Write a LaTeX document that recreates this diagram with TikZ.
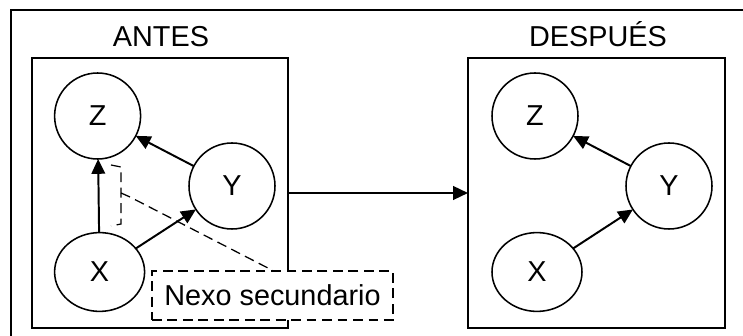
\documentclass[tikz,border=0pt]{standalone}
\usepackage{fontspec}
\setmainfont{Liberation Sans}
\usetikzlibrary{arrows.meta,shapes.geometric}
\begin{document}
\begin{tikzpicture}[
    font=\fontsize{20.5}{24}\selectfont,
    >={Triangle[length=0.37cm,width=0.34cm]},
    var/.style={draw,circle,line width=1.1pt,minimum size=2.15cm,inner sep=0pt,outer sep=0pt},
    varx/.style={draw,ellipse,line width=1.1pt,minimum width=2.25cm,minimum height=1.97cm,inner sep=0pt,outer sep=0pt},
    box/.style={draw,line width=1.3pt,minimum height=6.75cm,inner sep=0pt,outer sep=0pt},
    link/.style={->,line width=1.4pt},
    callout/.style={line width=0.9pt,dash pattern=on 7pt off 4pt}]
        \clip (0,0) rectangle (18.575,8.4);
        \draw[line width=1.3pt] (0.275,8.15) rectangle (19,-1);
        % the two frames
        \node[box,minimum width=6.4cm] (antes) at (4.0,3.575){};
        \node[box,minimum width=6.425cm] (despues) at (14.9125,3.575){};
        \node[anchor=base] (tantes) at (4.025,7.225){ANTES};
        \node[anchor=base] (tdespues) at (14.95,7.225){DESPUÉS};
        % before
        \node[var] (Z1) at (2.44,5.5){Z};
        \node[var] (Y1) at (5.8,3.75){Y};
        \node[varx] (X1) at (2.49,1.6){X};
        \draw[link] (X1)--(Z1);
        \draw[link] (X1)--(Y1);
        \draw[link] (Y1)--(Z1);
        % after
        \node[var] (Z2) at (13.375,5.5){Z};
        \node[var] (Y2) at (16.725,3.75){Y};
        \node[varx] (X2) at (13.425,1.6){X};
        \draw[link] (X2)--(Y2);
        \draw[link] (Y2)--(Z2);
        \draw[link] (antes)--(despues);
        % note on the X-Z link
        \node[callout,draw,fill=white,minimum width=6.025cm,minimum height=1.225cm,inner sep=0pt] (nexo) at (6.8125,1.0125){Nexo secundario};
        \draw[callout] (2.775,4.275)--(3.025,4.225)--(3.025,2.8)--(2.775,2.75);
        \draw[callout] (3.025,3.575)--(3.25,3.475)--(nexo.north);
    \end{tikzpicture}
\end{document}
